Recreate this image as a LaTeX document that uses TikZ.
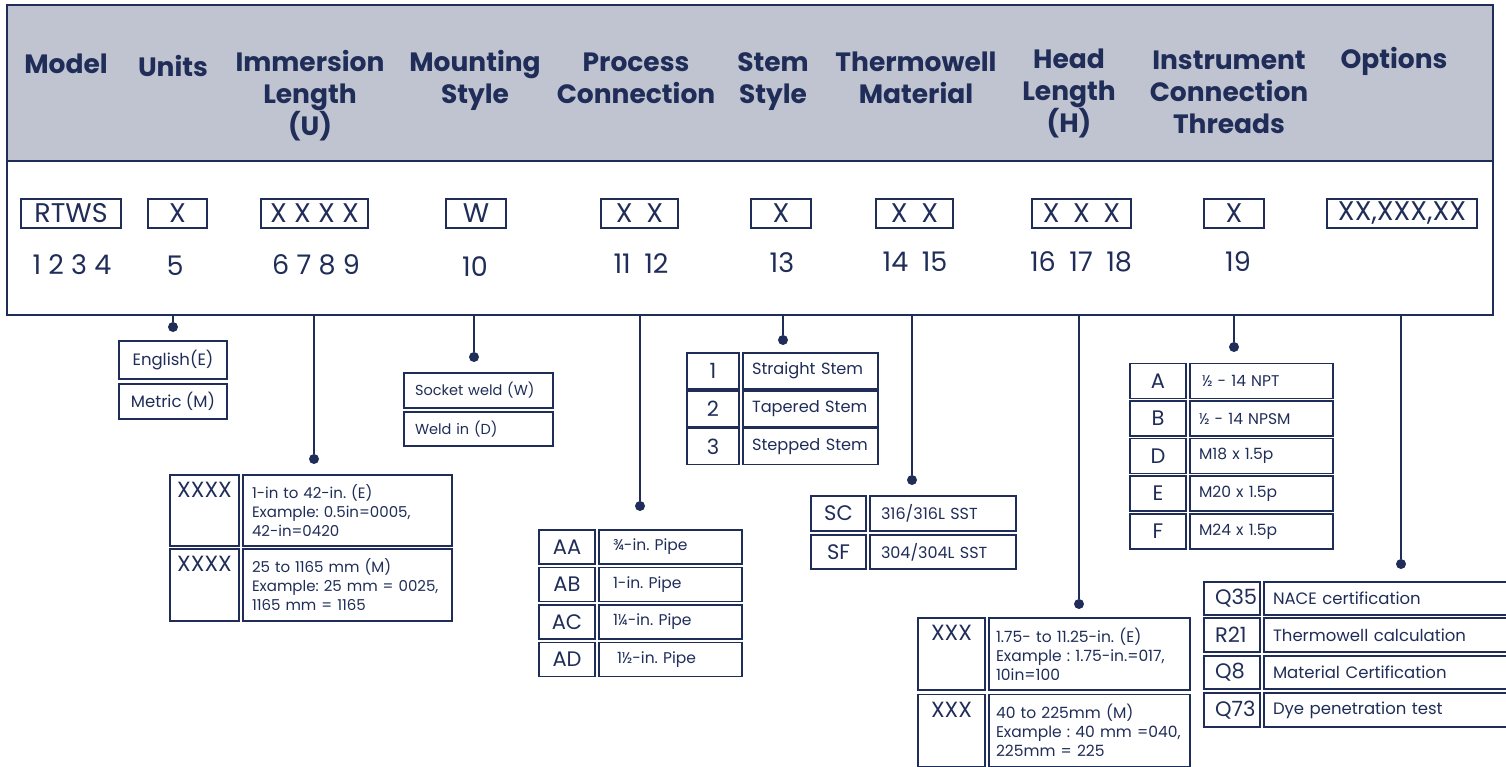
\documentclass[tikz,border=0pt]{standalone}
\usepackage{fontspec}
\setmainfont{Poppins}
\usetikzlibrary{positioning}
\definecolor{RTNavy}{HTML}{1F2D58}
\definecolor{RTBand}{HTML}{C0C4D0}

\begin{document}
\frenchspacing
\begin{tikzpicture}[x=1pt, y=-1pt,
  hdr/.style={font=\bfseries\fontsize{26.5}{32}\selectfont, text=RTNavy, align=center},
  codebox/.style={draw=RTNavy, line width=1.2pt, minimum height=29, inner sep=0pt,
                  font=\fontsize{27}{30}\selectfont, text=RTNavy},
  digits/.style={font=\fontsize{27}{30}\selectfont, text=RTNavy},
  bead/.style={circle, fill=RTNavy, minimum size=10, inner sep=0pt},
  link/.style={draw=RTNavy, line width=1.6pt},
  cell/.style={draw=RTNavy, line width=1.8pt, inner ysep=0pt, text=RTNavy},
  keycell/.style={cell, inner xsep=0pt, font=\fontsize{21}{24}\selectfont},
  keytext/.style={font=\fontsize{22}{24}\selectfont, text=RTNavy, anchor=north, yshift=-5pt},
  valcell/.style={cell, font=\fontsize{#1}{19}\selectfont, align=left},
  valcell/.default=15.5,
]
  \clip (0,0) rectangle (1506,767);

  % Header band and frame
  \node[draw=RTNavy, line width=1.6pt, fill=RTBand, minimum width=1486, minimum height=156,
        inner sep=0pt] (band) at (750,83) {};
  \node[draw=RTNavy, line width=1.6pt, minimum width=1486, minimum height=310,
        inner sep=0pt] (frame) at (750,160) {};

  % Column titles
  \node[hdr] (tModel) at (66,64)   {Model};
  \node[hdr] (tUnits) at (173,66)  {Units};
  \node[hdr] (tLen)   at (310,96)  {Immersion\\Length\\(U)};
  \node[hdr] (tMount) at (475,80)  {Mounting\\Style};
  \node[hdr] (tProc)  at (636,78)  {Process\\Connection};
  \node[hdr] (tStem)  at (773,82)  {Stem\\Style};
  \node[hdr] (tMat)   at (916,78)  {Thermowell\\Material};
  \node[hdr] (tHead)  at (1069,93) {Head\\Length\\(H)};
  \node[hdr] (tThr)   at (1229,92) {Instrument\\Connection\\Threads};
  \node[hdr] (tOpt)   at (1394,61) {Options};

  % Code boxes
  \node[codebox, minimum width=100] (cModel) at (71,213.5)    {RTWS};
  \node[codebox, minimum width=59]  (cUnits) at (177.5,213.5) {X};
  \node[codebox, minimum width=107] (cLen)   at (314.5,213.5) {X X X X};
  \node[codebox, minimum width=60]  (cMount) at (476,213.5)   {W};
  \node[codebox, minimum width=77]  (cProc)  at (639.5,213.5) {X\enspace X};
  \node[codebox, minimum width=60]  (cStem)  at (781,213.5)   {X};
  \node[codebox, minimum width=77]  (cMat)   at (914.5,213.5) {X\enspace X};
  \node[codebox, minimum width=99]  (cHead)  at (1081.5,213.5){X\enspace X\enspace X};
  \node[codebox, minimum width=60]  (cThr)   at (1234,213.5)  {X};
  \node[codebox, minimum width=150] (cOpt)   at (1402,213.5)  {XX,XXX,XX};

  % Digit positions
  \node[digits] (dModel) at (72,265)   {1 2 3 4};
  \node[digits] (dUnits) at (175,266)  {5};
  \node[digits] (dLen)   at (316,265)  {6 7 8 9};
  \node[digits] (dMount) at (475,267)  {10};
  \node[digits] (dProc)  at (641,264)  {11\enspace 12};
  \node[digits] (dStem)  at (782,263)  {13};
  \node[digits] (dMat)   at (915,262)  {14\enspace 15};
  \node[digits] (dHead)  at (1081,262) {16\enspace 17\enspace 18};
  \node[digits] (dThr)   at (1238,262) {19};

  % Leader dots
  \node[bead] (uDot) at (173,327)  {};
  \node[bead] (iDot) at (314,459)  {};
  \node[bead] (mDot) at (474,357)  {};
  \node[bead] (pDot) at (640,506)  {};
  \node[bead] (sDot) at (783,340)  {};
  \node[bead] (tDot) at (912,480)  {};
  \node[bead] (hDot) at (1079,604) {};
  \node[bead] (cDot) at (1234,347) {};
  \node[bead] (oDot) at (1401,564) {};
  \foreach \d in {uDot,iDot,mDot,pDot,sDot,tDot,hDot,cDot,oDot}
    \draw[link] (frame.south -| \d) -- (\d);

  % Units
  \node[valcell=16.5, align=center, minimum width=108, minimum height=38] (uE) at (173,360)   {English(E)};
  \node[valcell=16.5, align=center, minimum width=108, minimum height=35] (uM) at (173,401.5) {Metric (M)};

  % Immersion length
  \node[keycell, minimum width=69, minimum height=71,
        label={[keytext]north:XXXX}] (iK1) at (204.5,510.5) {};
  \node[keycell, minimum width=69, minimum height=72,
        label={[keytext]north:XXXX}] (iK2) at (204.5,585) {};
  \node[valcell=15, inner xsep=9, text width=191, minimum height=71] (iV1) at (347.5,510.5)
    {1-in to 42-in. (E)\\Example: 0.5in=0005,\\42-in=0420};
  \node[valcell=15, inner xsep=9, text width=191, minimum height=72] (iV2) at (347.5,585)
    {25~to~1165~mm~(M)\\Example:~25~mm~=~0025,\\1165~mm~=~1165};

  % Mounting style
  \node[valcell=14.5, inner xsep=11, text width=127, minimum height=35] (mW) at (478.5,390.5) {Socket weld (W)};
  \node[valcell=14.5, inner xsep=11, text width=127, minimum height=34] (mD) at (478.5,429)   {Weld in (D)};

  % Process connection
  \node[keycell, minimum width=56, minimum height=34] (pK1) at (567,547)   {AA};
  \node[keycell, minimum width=56, minimum height=34] (pK2) at (567,584.5) {AB};
  \node[keycell, minimum width=56, minimum height=34] (pK3) at (567,622)   {AC};
  \node[keycell, minimum width=56, minimum height=34] (pK4) at (567,659.5) {AD};
  \node[valcell, inner xsep=14, text width=115, minimum height=34] (pV1) at (670.5,547)   {¾-in. Pipe};
  \node[valcell, inner xsep=14, text width=115, minimum height=34] (pV2) at (670.5,584.5) {1-in. Pipe};
  \node[valcell, inner xsep=14, text width=115, minimum height=34] (pV3) at (670.5,622)   {1¼-in. Pipe};
  \node[valcell, inner xsep=14, text width=115, minimum height=34] (pV4) at (670.5,659.5) {\hspace*{4pt}1½-in. Pipe};

  % Stem style
  \node[keycell, minimum width=52, minimum height=36] (sK1) at (713,371)   {1};
  \node[keycell, minimum width=52, minimum height=36] (sK2) at (713,409)   {2};
  \node[keycell, minimum width=52, minimum height=36] (sK3) at (713,446.5) {3};
  \node[valcell=16.2, inner xsep=9, text width=117, minimum height=36] (sV1) at (810.5,371)   {Straight Stem};
  \node[valcell=16.2, inner xsep=9, text width=117, minimum height=36] (sV2) at (810.5,409)   {Tapered Stem};
  \node[valcell=16.2, inner xsep=9, text width=117, minimum height=36] (sV3) at (810.5,446.5) {Stepped Stem};

  % Thermowell material
  \node[keycell, minimum width=55, minimum height=35] (tK1) at (838.5,513.5) {SC};
  \node[keycell, minimum width=55, minimum height=34] (tK2) at (838.5,552)   {SF};
  \node[valcell=16, inner xsep=11, text width=124, minimum height=35] (tV1) at (943,513.5) {316/316L SST};
  \node[valcell=16, inner xsep=11, text width=124, minimum height=34] (tV2) at (943,552)   {304/304L SST};

  % Head length
  \node[keycell, minimum width=67, minimum height=72,
        label={[keytext]north:XXX}] (hK1) at (951.5,654) {};
  \node[keycell, minimum width=67, minimum height=72,
        label={[keytext]north:XXX}] (hK2) at (951.5,730.5) {};
  \node[valcell, inner xsep=7, text width=187, minimum height=72] (hV1) at (1089.5,654)
    {1.75- to 11.25-in. (E)\\Example : 1.75-in.=017,\\10in=100};
  \node[valcell, inner xsep=7, text width=187, minimum height=72] (hV2) at (1089.5,730.5)
    {40 to 225mm (M)\\Example : 40 mm =040,\\225mm = 225};

  % Instrument connection threads
  \node[keycell, minimum width=56, minimum height=35] (cK1) at (1158,381)   {A};
  \node[keycell, minimum width=56, minimum height=35] (cK2) at (1158,418.5) {B};
  \node[keycell, minimum width=56, minimum height=35] (cK3) at (1158,456)   {D};
  \node[keycell, minimum width=56, minimum height=35] (cK4) at (1158,493.5) {E};
  \node[keycell, minimum width=56, minimum height=35] (cK5) at (1158,531.5) {F};
  \node[valcell, inner xsep=9, text width=125, minimum height=35] (cV1) at (1261.5,381)   {\hspace*{3pt}½ - 14 NPT};
  \node[valcell, inner xsep=9, text width=125, minimum height=35] (cV2) at (1261.5,418.5) {½ - 14 NPSM};
  \node[valcell, inner xsep=9, text width=125, minimum height=35] (cV3) at (1261.5,456)   {M18 x 1.5p};
  \node[valcell, inner xsep=9, text width=125, minimum height=35] (cV4) at (1261.5,493.5) {M20 x 1.5p};
  \node[valcell, inner xsep=9, text width=125, minimum height=35] (cV5) at (1261.5,531.5) {M24 x 1.5p};

  % Options
  \node[keycell, inner xsep=11, text width=34, align=left, minimum height=33] (oK1) at (1232,598.5) {Q35};
  \node[keycell, inner xsep=11, text width=34, align=left, minimum height=34] (oK2) at (1232,635)   {R21};
  \node[keycell, inner xsep=11, text width=34, align=left, minimum height=33] (oK3) at (1232,672.5) {Q8};
  \node[keycell, inner xsep=11, text width=34, align=left, minimum height=34] (oK4) at (1232,710)   {Q73};
  \node[valcell=16.5, inner xsep=9, text width=232, minimum height=33] (oV1) at (1389,598.5) {NACE certification};
  \node[valcell=16.5, inner xsep=9, text width=232, minimum height=34] (oV2) at (1389,635)   {Thermowell calculation};
  \node[valcell=16.5, inner xsep=9, text width=232, minimum height=33] (oV3) at (1389,672.5) {Material Certification};
  \node[valcell=16.5, inner xsep=9, text width=232, minimum height=34] (oV4) at (1389,710)   {Dye penetration test};
\end{tikzpicture}
\end{document}
